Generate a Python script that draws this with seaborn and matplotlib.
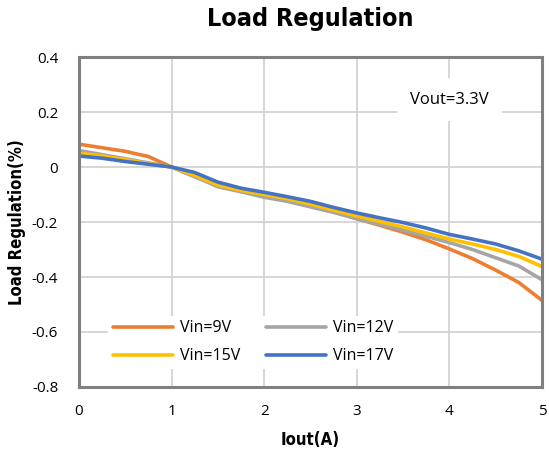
import numpy as np
import pandas as pd
import matplotlib
matplotlib.use('Agg')
import matplotlib.pyplot as plt
import seaborn as sns

# Data
iout = [0.0, 0.25, 0.5, 0.75, 1.0, 1.25, 1.5, 1.75, 2.0, 2.25, 2.5, 2.75, 3.0,
        3.25, 3.5, 3.75, 4.0, 4.25, 4.5, 4.75, 5.0]
vin9 = [0.083, 0.070, 0.057, 0.038, 0.000, -0.035, -0.062, -0.082, -0.100, -0.118,
        -0.140, -0.163, -0.188, -0.212, -0.237, -0.265, -0.298, -0.333, -0.375, -0.420, -0.485]
vin12 = [0.060, 0.045, 0.030, 0.015, 0.000, -0.035, -0.072, -0.090, -0.110, -0.125,
         -0.145, -0.165, -0.188, -0.208, -0.230, -0.252, -0.275, -0.300, -0.330, -0.360, -0.410]
vin15 = [0.050, 0.040, 0.027, 0.012, 0.000, -0.030, -0.066, -0.085, -0.100, -0.115,
         -0.135, -0.157, -0.178, -0.198, -0.218, -0.240, -0.262, -0.280, -0.300, -0.325, -0.362]
vin17 = [0.040, 0.032, 0.020, 0.010, 0.000, -0.020, -0.055, -0.077, -0.092, -0.108,
         -0.125, -0.147, -0.167, -0.185, -0.202, -0.222, -0.245, -0.262, -0.280, -0.305, -0.335]
series = ['Vin=9V', 'Vin=12V', 'Vin=15V', 'Vin=17V']
colors = ['#ED7D31', '#A5A5A5', '#FFC000', '#4472C4']

df = pd.DataFrame({'Iout': iout * 4,
                   'value': vin9 + vin12 + vin15 + vin17,
                   'Vin': [s for s in series for _ in iout]})

sns.set_style('white')
plt.rcParams['font.family'] = ['Open Sans', 'DejaVu Sans']
plt.rcParams['text.color'] = 'black'
plt.rcParams['axes.labelcolor'] = 'black'
plt.rcParams['xtick.color'] = 'black'
plt.rcParams['ytick.color'] = 'black'

fig = plt.figure(figsize=(5.49, 4.54), dpi=100)
ax = fig.add_axes([0.1439, 0.1476, 0.8433, 0.7268])

sns.lineplot(data=df, x='Iout', y='value', hue='Vin', palette=colors,
             linewidth=2.6, ax=ax, legend=True)

ax.set_xlim(0, 5)
ax.set_ylim(-0.8, 0.4)
ax.set_xticks([0, 1, 2, 3, 4, 5])
ax.set_yticks([-0.8, -0.6, -0.4, -0.2, 0, 0.2, 0.4])
ax.set_yticklabels(['-0.8', '-0.6', '-0.4', '-0.2', '0', '0.2', '0.4'])
ax.tick_params(axis='y', labelsize=11, length=0, pad=15)
ax.tick_params(axis='x', labelsize=11, length=0, pad=12)
ax.grid(True, color='#D0D0D0', linewidth=1.2)
ax.set_axisbelow(True)
for sp in ax.spines.values():
    sp.set_color('#808080')
    sp.set_linewidth(2.2)

lab_font = dict(fontsize=12, fontweight='bold', family='DejaVu Sans', stretch='condensed')
ax.set_xlabel('Iout(A)', labelpad=9, **lab_font)
ax.set_ylabel('Load Regulation(%)', labelpad=4, **lab_font)
fig.text(0.565, 0.958, 'Load Regulation', ha='center', va='center', fontsize=18,
         fontweight='bold', family='DejaVu Sans', stretch='condensed')

ax.text(4.0, 0.245, 'Vout=3.3V', ha='center', va='center', fontsize=12,
        bbox=dict(facecolor='white', edgecolor='none', boxstyle='square,pad=0.8'))

handles, labels = ax.get_legend_handles_labels()
order = [0, 2, 1, 3]
leg = ax.legend([handles[i] for i in order], [labels[i] for i in order],
                loc='lower left', bbox_to_anchor=(0.045, 0.03), ncol=2, frameon=True,
                fontsize=11.5, handlelength=3.8, columnspacing=1.6, borderpad=0.3,
                labelspacing=0.75, handletextpad=0.4)
leg.get_frame().set_facecolor('white')
leg.get_frame().set_edgecolor('none')
leg.get_frame().set_alpha(1)
for line in leg.get_lines():
    line.set_linewidth(2.6)

fig.savefig('out.png', dpi=100)
